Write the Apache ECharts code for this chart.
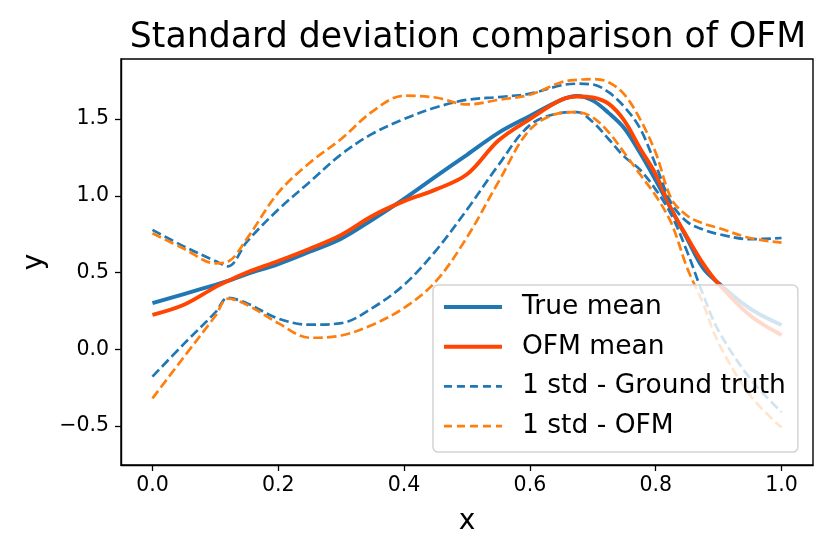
<!DOCTYPE html>
<html>
<head>
<meta charset="utf-8">
<script src="https://cdn.jsdelivr.net/npm/echarts@6/dist/echarts.min.js"></script>
<style>
html,body{margin:0;padding:0;background:#fff;}
#chart{width:834px;height:556px;}
</style>
</head>
<body>
<div id="chart"></div>
<script>
// ---- data ----
const xs = [0, 0.05, 0.1, 0.12, 0.15, 0.2, 0.25, 0.3, 0.35, 0.4, 0.45, 0.5, 0.55, 0.6, 0.65, 0.675, 0.7, 0.725, 0.75, 0.775, 0.8, 0.825, 0.85, 0.875, 0.9, 0.95, 1.0];
const trueMean = [0.30, 0.36, 0.42, 0.445, 0.49, 0.555, 0.635, 0.72, 0.845, 0.98, 1.125, 1.267, 1.41, 1.52, 1.625, 1.65, 1.62, 1.54, 1.44, 1.28, 1.10, 0.91, 0.72, 0.53, 0.43, 0.265, 0.158];
const ofmMean  = [0.224, 0.29, 0.405, 0.445, 0.50, 0.575, 0.655, 0.745, 0.87, 0.965, 1.04, 1.14, 1.36, 1.50, 1.625, 1.647, 1.64, 1.60, 1.49, 1.31, 1.14, 0.91, 0.73, 0.56, 0.425, 0.22, 0.093];
const gtUpper  = [0.778, 0.67, 0.575, 0.54, 0.70, 0.91, 1.09, 1.27, 1.405, 1.50, 1.575, 1.625, 1.643, 1.665, 1.72, 1.73, 1.725, 1.675, 1.58, 1.44, 1.20, 0.95, 0.83, 0.78, 0.75, 0.717, 0.725];
const gtLower  = [-0.178, 0.035, 0.24, 0.335, 0.30, 0.20, 0.16, 0.17, 0.27, 0.42, 0.64, 0.91, 1.20, 1.46, 1.54, 1.545, 1.48, 1.37, 1.255, 1.17, 1.04, 0.875, 0.635, 0.36, 0.12, -0.19, -0.41];
const ofmUpper = [0.756, 0.655, 0.56, 0.57, 0.72, 1.02, 1.215, 1.37, 1.55, 1.652, 1.64, 1.595, 1.625, 1.658, 1.74, 1.755, 1.76, 1.74, 1.66, 1.50, 1.28, 0.98, 0.87, 0.82, 0.79, 0.725, 0.695];
const ofmLower = [-0.32, -0.05, 0.217, 0.33, 0.29, 0.17, 0.075, 0.09, 0.16, 0.27, 0.44, 0.73, 1.09, 1.43, 1.54, 1.545, 1.51, 1.415, 1.28, 1.14, 1.00, 0.82, 0.53, 0.30, 0.04, -0.30, -0.51];
const xTicks = [0, 0.2, 0.4, 0.6, 0.8, 1.0];
const yTicks = [-0.5, 0, 0.5, 1.0, 1.5];
const names = ['True mean', 'OFM mean', '1 std - Ground truth', '1 std - OFM'];

const pts = ys => xs.map((x, i) => [x, ys[i]]);
const FONT = 'DejaVu Sans';
const BLUE = '#1f77b4', RED = '#ff4500', ORANGE = '#ff7f0e';
const SOLID_W = 3.9, DASH_W = 2.7, DASH = [9.6, 4.2];

const solid = (name, ys, color) => ({
  type: 'line', name, data: pts(ys), smooth: 0.35, symbol: 'none', showSymbol: false,
  lineStyle: { color, width: SOLID_W }, itemStyle: { color }, z: 2
});
const dashed = (name, ys, color) => ({
  type: 'line', name, data: pts(ys), smooth: 0.35, symbol: 'none', showSymbol: false,
  lineStyle: { color, width: DASH_W, type: DASH }, itemStyle: { color }, z: 3
});

const chart = echarts.init(document.getElementById('chart'), null, { renderer: 'canvas' });
chart.setOption({
  animation: false,
  backgroundColor: '#fff',
  title: {
    text: 'Standard deviation comparison of OFM',
    left: 463, top: 15, textAlign: 'center',
    textStyle: { fontFamily: FONT, fontSize: 34.7, fontWeight: 'normal', color: '#000' }
  },
  grid: { left: 121, right: 21, top: 59, bottom: 91, show: true, borderColor: '#000', borderWidth: 1.4, backgroundColor: 'transparent' },
  xAxis: {
    type: 'value', min: -0.05, max: 1.05,
    name: 'x', nameLocation: 'middle', nameGap: 43,
    nameTextStyle: { fontFamily: FONT, fontSize: 28, color: '#000' },
    axisLine: { show: true, onZero: false, lineStyle: { color: '#000', width: 1.4 } },
    axisTick: { show: true, length: 6, lineStyle: { color: '#000', width: 1.3 }, customValues: xTicks },
    axisLabel: { fontFamily: FONT, fontSize: 20.5, color: '#000', margin: 10, customValues: xTicks,
      formatter: v => v.toFixed(1) },
    splitLine: { show: false }
  },
  yAxis: {
    type: 'value', min: -0.754, max: 1.891,
    name: 'y', nameLocation: 'middle', nameGap: 70,
    nameTextStyle: { fontFamily: FONT, fontSize: 28, color: '#000' },
    axisLine: { show: true, onZero: false, lineStyle: { color: '#000', width: 1.4 } },
    axisTick: { show: true, length: 6, lineStyle: { color: '#000', width: 1.3 }, customValues: yTicks },
    axisLabel: { fontFamily: FONT, fontSize: 20.5, color: '#000', margin: 12, customValues: yTicks,
      formatter: v => v.toFixed(1).replace('-', '\u2212') },
    splitLine: { show: false }
  },
  legend: {
    data: [
      { name: names[0], lineStyle: { width: SOLID_W, color: BLUE } },
      { name: names[1], lineStyle: { width: SOLID_W, color: RED } },
      { name: names[2], lineStyle: { width: DASH_W, color: BLUE, type: [8, 5] } },
      { name: names[3], lineStyle: { width: DASH_W, color: ORANGE, type: [8, 5] } }
    ],
    orient: 'vertical', left: 433, top: 285,
    itemWidth: 58, itemHeight: 14, itemGap: 9.7,
    padding: [7, 12, 11, 9],
    backgroundColor: 'rgba(255,255,255,0.8)', borderColor: '#d4d4d4', borderWidth: 1.5, borderRadius: 5,
    itemStyle: { color: 'rgba(0,0,0,0)', borderColor: 'rgba(0,0,0,0)', borderWidth: 0, opacity: 0 },
    textStyle: { fontFamily: FONT, fontSize: 26.5, color: '#000', lineHeight: 30, padding: [0, 0, 0, 15] },
    z: 10
  },
  series: [
    solid(names[0], trueMean, BLUE),
    solid(names[1], ofmMean, RED),
    dashed(names[2], gtUpper, BLUE),
    dashed(names[2], gtLower, BLUE),
    dashed(names[3], ofmUpper, ORANGE),
    dashed(names[3], ofmLower, ORANGE)
  ]
});
</script>
</body>
</html>
